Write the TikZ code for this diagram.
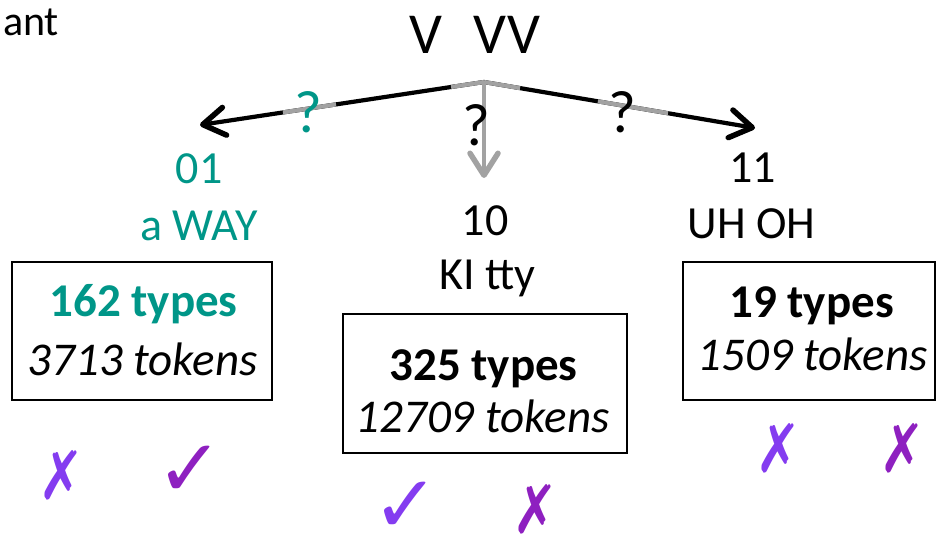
\documentclass[tikz,border=0pt]{standalone}
\usepackage{fontspec}
\setmainfont{Carlito}
\newfontfamily\symfont{DejaVu Sans}
\usetikzlibrary{arrows.meta,calc}
\definecolor{tealc}{RGB}{0,150,136}
\definecolor{violc}{RGB}{132,60,240}
\definecolor{purpc}{RGB}{142,32,192}
\definecolor{grayc}{RGB}{162,162,162}
\begin{document}
\begin{tikzpicture}[x=1pt,y=-1pt,
  lbl/.style={anchor=base,inner sep=0pt,font=\fontsize{46}{54}\selectfont},
  qmark/.style={anchor=base,inner sep=0pt,font=\fontsize{60}{70}\selectfont},
  countbox/.style={draw,line width=1.6pt},
  headtip/.style={-{Straight Barb[length=22pt,width=28pt,round,line width=5.5pt]}},
  blkline/.style={line width=4.2pt,black,headtip},
  grayseg/.style={line width=4.2pt,grayc},
  crossmark/.style={anchor=base,inner sep=0pt,text depth=0pt,xscale=0.82,font=\symfont\fontsize{67}{72}\selectfont},
  checkmark/.style={anchor=base,inner sep=0pt,text depth=0pt,font=\symfont\fontsize{80}{86}\selectfont}
]
\useasboundingbox (0,0) rectangle (936,538);

% top labels
\node[anchor=base west,inner sep=0pt,font=\fontsize{42}{50}\selectfont] (ant) at (3,35) {ant};
\node[anchor=base,inner sep=0pt,font=\fontsize{58}{66}\selectfont] (top) at (474.5,53) {V\hspace{32pt}VV};

% arrows
\coordinate (apex) at (484,82);
\coordinate (ltip) at (200,125);
\coordinate (rtip) at (755,128);
\coordinate (dtip) at (484,178);

\draw[blkline] (apex) -- (ltip);
\draw[grayseg] (apex) -- ($(apex)!0.116!(ltip)$);
\draw[grayseg] ($(apex)!0.521!(ltip)$) -- ($(apex)!0.708!(ltip)$);

\draw[blkline] (apex) -- (rtip);
\draw[grayseg] (apex) -- ($(apex)!0.133!(rtip)$);
\draw[grayseg] ($(apex)!0.42!(rtip)$) -- ($(apex)!0.679!(rtip)$);

\draw[line width=4.2pt,grayc,headtip] (apex) -- (dtip);

\node[qmark,text=tealc] (q1) at (308,132) {?};
\node[qmark] (q2) at (476,145) {?};
\node[qmark] (q3) at (622,132) {?};

% branch labels
\node[lbl,text=tealc] (l01) at (199,183) {01};
\node[lbl,text=tealc] (w01) at (199,240) {a WAY};
\node[lbl] (l10) at (485,235) {10};
\node[lbl] (w10) at (487.5,289) {KI tty};
\node[lbl] (l11) at (752.5,182) {11};
\node[lbl] (w11) at (751.5,238) {UH OH};

% boxes
\draw[countbox] (12,262) rectangle (272,400);
\node[lbl,font=\bfseries\fontsize{47}{54}\selectfont,text=tealc] (t1) at (143.5,316) {162 types};
\node[lbl,font=\itshape\fontsize{47}{54}\selectfont] (k1) at (142.5,375) {3713 tokens};

\draw[countbox] (343,314) rectangle (627,453);
\node[lbl,font=\bfseries\fontsize{47}{54}\selectfont] (t2) at (483.5,380) {325 types};
\node[lbl,font=\itshape\fontsize{47}{54}\selectfont] (k2) at (482.5,432) {12709 tokens};

\draw[countbox] (683,262) rectangle (935,400);
\node[lbl,font=\bfseries\fontsize{47}{54}\selectfont] (t3) at (811.5,317) {19 types};
\node[lbl,font=\itshape\fontsize{47}{54}\selectfont] (k3) at (812.5,370) {1509 tokens};

% marks
\node[crossmark,text=violc] (m1) at (61.5,499) {✗};
\node[checkmark,text=purpc] (m2) at (190,496) {✓};
\node[checkmark,text=violc] (m3) at (406,532) {✓};
\node[crossmark,text=purpc] (m4) at (536,533) {✗};
\node[crossmark,text=violc] (m5) at (779,472) {✗};
\node[crossmark,text=purpc] (m6) at (903,472) {✗};
\end{tikzpicture}
\end{document}
